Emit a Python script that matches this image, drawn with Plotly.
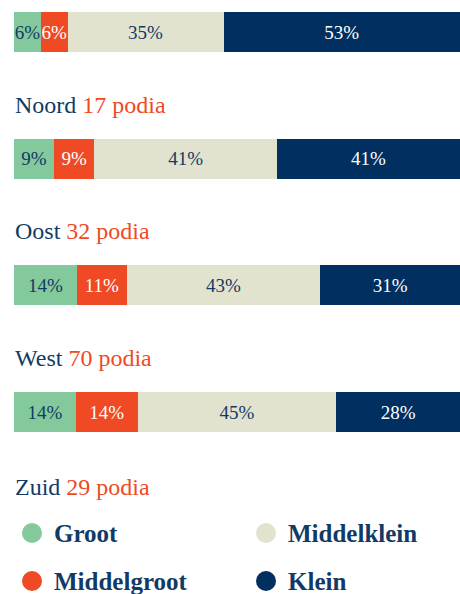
import plotly.graph_objects as go

regions = ["Noord", "Oost", "West", "Zuid"]
podia = [17, 32, 70, 29]
categories = ["Groot", "Middelgroot", "Middelklein", "Klein"]
groot = [6, 9, 14, 14]
middelgroot = [6, 9, 11, 14]
middelklein = [35, 41, 43, 45]
klein = [53, 41, 31, 28]

series = [groot, middelgroot, middelklein, klein]
colors = ["#83c99c", "#ef4a24", "#e2e3ce", "#012f5f"]
text_colors = ["#123a66", "#ffffff", "#123a66", "#ffffff"]
NAVY = "#123a66"
RED = "#ef4a24"
FONT = "Liberation Serif"

W, H = 460, 594
ypos = list(range(len(regions)))

def px(x):
    return x / W

def py(y):
    return 1 - y / H

fig = go.Figure()
for name, vals, c, tc in zip(categories, series, colors, text_colors):
    fig.add_trace(go.Bar(
        y=ypos, x=vals, name=name, orientation="h",
        marker=dict(color=c, line=dict(width=0)),
        width=0.316,
        text=[f"{v}%" for v in vals],
        textposition="inside", insidetextanchor="middle",
        textangle=0,
        textfont=dict(family=FONT, size=19, color=tc),
        constraintext="none",
        hoverinfo="skip", showlegend=False,
    ))

# region labels below bars
label_py = [105, 231, 358, 487]
for r, p, ly in zip(regions, podia, label_py):
    fig.add_annotation(
        xref="paper", yref="paper", x=px(13), y=py(ly),
        xanchor="left", yanchor="middle", showarrow=False,
        text=f"{r} <span style='color:{RED}'>{p} podia</span>",
        font=dict(family=FONT, size=24, color=NAVY),
    )

# legend
leg_pos = [(32, 533), (32, 581), (266, 533), (266, 581)]
for name, c, (cx, cy) in zip(categories, colors, leg_pos):
    r = 10
    fig.add_shape(type="circle", xref="paper", yref="paper",
                  x0=px(cx - r), x1=px(cx + r),
                  y0=py(cy + r), y1=py(cy - r),
                  fillcolor=c, line=dict(width=0))
    fig.add_annotation(
        xref="paper", yref="paper", x=px(cx + 20), y=py(cy),
        xanchor="left", yanchor="middle", showarrow=False,
        text=f"<b>{name}</b>",
        font=dict(family=FONT, size=25, color=NAVY),
    )

bar_top_c = 32
bar_bot_c = 412
step = (bar_bot_c - bar_top_c) / 3

fig.update_layout(
    width=W, height=H,
    margin=dict(l=0, r=0, t=0, b=0),
    barmode="stack", barnorm="percent",
    bargap=0,
    plot_bgcolor="white", paper_bgcolor="white",
    uniformtext=dict(minsize=19, mode="show"),
    xaxis=dict(range=[-100 * 14 / 446, 100], visible=False, fixedrange=True),
    yaxis=dict(range=[3 + (H - bar_bot_c) / step, -bar_top_c / step],
               visible=False, fixedrange=True),
)

fig.write_html(
    "out.html",
    config={"displayModeBar": False, "staticPlot": True},
    post_script="document.body.style.margin='0';document.body.style.overflow='hidden';",
)
